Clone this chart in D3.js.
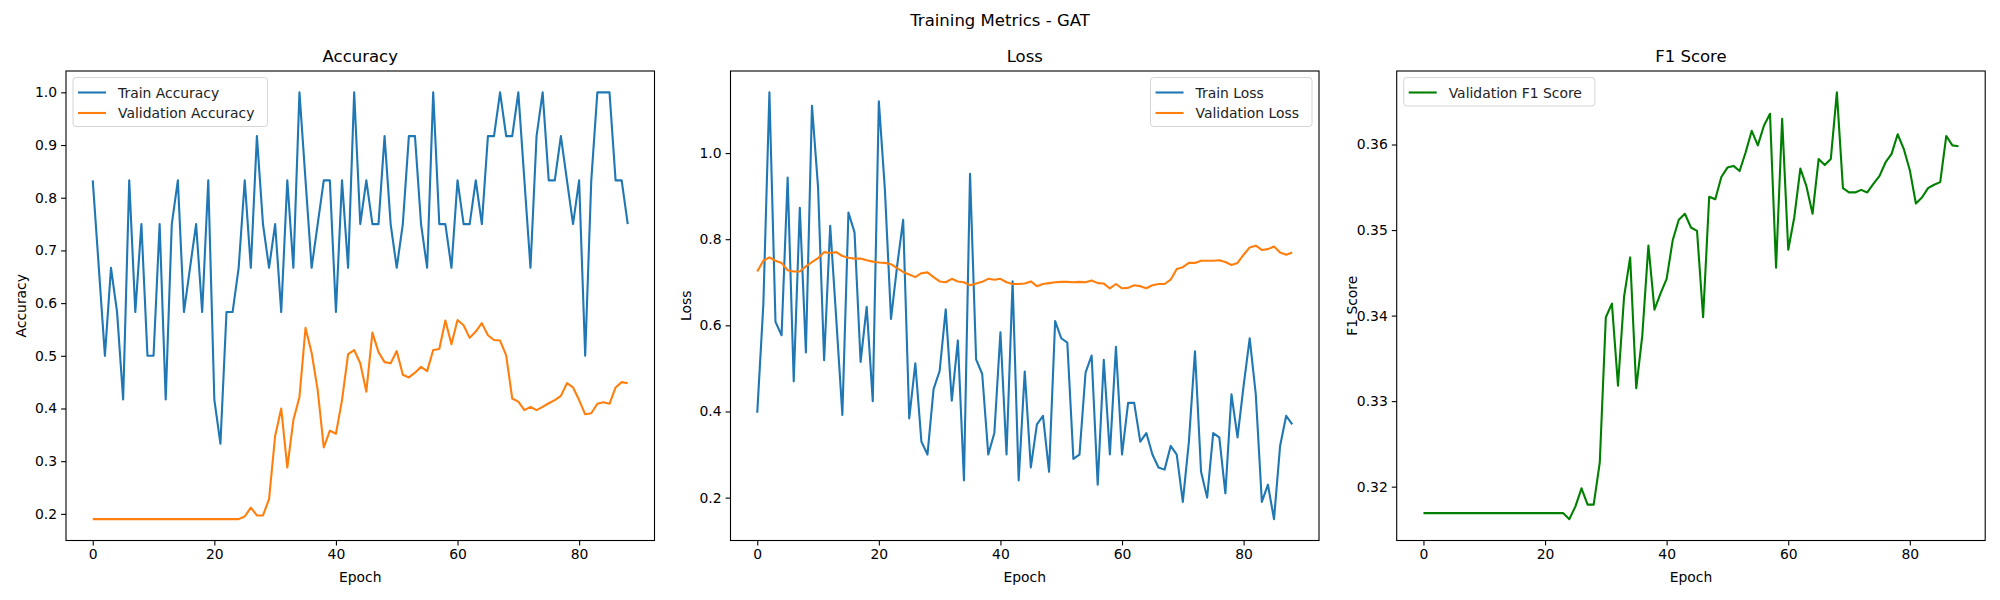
<!DOCTYPE html>
<html>
<head>
<meta charset="utf-8">
<script src="https://cdn.jsdelivr.net/npm/d3@7"></script>
<style>
  body { margin:0; background:#fff; }
  svg { font-family: "DejaVu Sans", sans-serif; }
</style>
</head>
<body>
<svg id="chart" width="2000" height="600"></svg>
<script>
var trainAcc = [0.833,0.667,0.5,0.667,0.583,0.417,0.833,0.583,0.75,0.5,0.5,0.75,0.417,0.75,0.833,0.583,0.667,0.75,0.583,0.833,
  0.417,0.333,0.583,0.583,0.667,0.833,0.667,0.917,0.75,0.667,0.75,0.583,0.833,0.667,1.0,0.833,0.667,0.75,0.833,0.833,
  0.583,0.833,0.667,1.0,0.75,0.833,0.75,0.75,0.917,0.75,0.667,0.75,0.917,0.917,0.75,0.667,1.0,0.75,0.75,0.667,
  0.833,0.75,0.75,0.833,0.75,0.917,0.917,1.0,0.917,0.917,1.0,0.833,0.667,0.917,1.0,0.833,0.833,0.917,0.833,0.75,
  0.833,0.5,0.833,1.0,1.0,1.0,0.833,0.833,0.75];
var valAcc = [0.19,0.19,0.19,0.19,0.19,0.19,0.19,0.19,0.19,0.19,0.19,0.19,0.19,0.19,0.19,0.19,0.19,0.19,0.19,0.19,
  0.19,0.19,0.19,0.19,0.19,0.195,0.212,0.197,0.197,0.228,0.348,0.40,0.288,0.378,0.422,0.553,0.506,0.435,0.326,0.358,
  0.352,0.416,0.503,0.511,0.486,0.432,0.544,0.507,0.488,0.486,0.509,0.464,0.459,0.468,0.479,0.471,0.511,0.513,0.567,0.522,
  0.568,0.558,0.534,0.546,0.562,0.539,0.530,0.529,0.501,0.419,0.413,0.397,0.403,0.397,0.403,0.410,0.416,0.424,0.448,0.440,
  0.416,0.389,0.391,0.409,0.412,0.409,0.440,0.450,0.448];
var trainLoss = [0.397,0.648,1.141,0.608,0.577,0.943,0.470,0.873,0.537,1.110,0.921,0.519,0.831,0.614,0.392,0.862,0.816,0.515,0.643,0.424,
  1.120,0.914,0.615,0.737,0.845,0.384,0.512,0.33,0.30,0.452,0.494,0.637,0.425,0.565,0.24,0.952,0.521,0.487,0.30,0.35,
  0.584,0.30,0.702,0.24,0.493,0.27,0.37,0.39,0.26,0.61,0.57,0.56,0.29,0.30,0.49,0.53,0.23,0.52,0.30,0.55,
  0.30,0.42,0.42,0.33,0.35,0.30,0.27,0.265,0.32,0.30,0.19,0.33,0.54,0.26,0.20,0.35,0.34,0.21,0.44,0.34,
  0.46,0.57,0.44,0.19,0.23,0.15,0.32,0.39,0.37];
var valLoss = [0.725,0.750,0.758,0.750,0.745,0.728,0.725,0.725,0.737,0.747,0.756,0.770,0.768,0.770,0.761,0.757,0.755,0.755,0.751,0.748,
  0.746,0.745,0.742,0.733,0.724,0.718,0.712,0.721,0.723,0.712,0.702,0.700,0.708,0.702,0.700,0.693,0.697,0.701,0.708,0.706,
  0.708,0.700,0.696,0.696,0.697,0.702,0.691,0.696,0.698,0.700,0.701,0.701,0.700,0.701,0.700,0.704,0.698,0.697,0.686,0.696,
  0.686,0.687,0.693,0.691,0.686,0.693,0.696,0.696,0.706,0.731,0.735,0.745,0.745,0.750,0.750,0.750,0.751,0.747,0.740,0.745,
  0.764,0.781,0.785,0.775,0.777,0.783,0.769,0.764,0.769];
var valF1 = [0.3169,0.3169,0.3169,0.3169,0.3169,0.3169,0.3169,0.3169,0.3169,0.3169,0.3169,0.3169,0.3169,0.3169,0.3169,0.3169,0.3169,0.3169,0.3169,0.3169,
  0.3169,0.3169,0.3169,0.3169,0.3162,0.3177,0.3198,0.3179,0.3179,0.3228,0.3398,0.3414,0.3318,0.3422,0.3468,0.3315,0.3377,0.3482,0.3407,0.3426,
  0.3443,0.3488,0.3512,0.3519,0.3503,0.3499,0.3398,0.3539,0.3536,0.3562,0.3573,0.3575,0.3569,0.3591,0.3616,0.3599,0.3622,0.3636,0.3456,0.3630,
  0.3477,0.3515,0.3572,0.3551,0.3519,0.3583,0.3576,0.3583,0.3661,0.3549,0.3544,0.3544,0.3547,0.3544,0.3554,0.3563,0.3579,0.3589,0.3612,0.3595,
  0.3570,0.3531,0.3538,0.3549,0.3553,0.3556,0.3610,0.3599,0.3598];
var xTicks = [0,20,40,60,80];

var panels = [
  {title:'Accuracy', ylabel:'Accuracy', left:66, yticks:[0.2,0.3,0.4,0.5,0.6,0.7,0.8,0.9,1.0], fmt:'.1f', legend:'left',
   series:[{name:'Train Accuracy', values:trainAcc, color:'#1f77b4'}, {name:'Validation Accuracy', values:valAcc, color:'#ff7f0e'}]},
  {title:'Loss', ylabel:'Loss', left:730.5, yticks:[0.2,0.4,0.6,0.8,1.0], fmt:'.1f', legend:'right',
   series:[{name:'Train Loss', values:trainLoss, color:'#1f77b4'}, {name:'Validation Loss', values:valLoss, color:'#ff7f0e'}]},
  {title:'F1 Score', ylabel:'F1 Score', left:1396.7, yticks:[0.32,0.33,0.34,0.35,0.36], fmt:'.2f', legend:'left',
   series:[{name:'Validation F1 Score', values:valF1, color:'#008000'}]}
];

var svg = d3.select('#chart'),
  W = 588.5, plotTop = 71, plotBottom = 540.5;

svg.append('text').attr('x',1000).attr('y',26).attr('text-anchor','middle')
  .style('font-size','16.5px').text('Training Metrics - GAT');

panels.forEach(function(p){
  var all = [].concat.apply([], p.series.map(function(s){ return s.values; })),
    mn = d3.min(all), mx = d3.max(all), pad = (mx-mn)*0.05;
  var x = d3.scaleLinear().domain([-4.4, 92.4]).range([p.left, p.left+W]);
  var y = d3.scaleLinear().domain([mn-pad, mx+pad]).range([plotBottom, plotTop]);
  var g = svg.append('g');

  var xa = g.append('g').attr('transform','translate(0,'+plotBottom+')')
    .call(d3.axisBottom(x).tickValues(xTicks).tickFormat(d3.format('d')).tickSize(4.9).tickPadding(4));
  var ya = g.append('g').attr('transform','translate('+p.left+',0)')
    .call(d3.axisLeft(y).tickValues(p.yticks).tickFormat(d3.format(p.fmt)).tickSize(4.9).tickPadding(4));
  [xa,ya].forEach(function(a){
    a.select('.domain').remove();
    a.selectAll('line').attr('stroke','#000').attr('stroke-width',1.1);
    a.selectAll('text').style('font-size','13.9px').attr('fill','#000').style('font-family','"DejaVu Sans", sans-serif');
  });

  var line = d3.line().x(function(d,i){ return x(i); }).y(function(d){ return y(d); });
  p.series.forEach(function(s){
    g.append('path').datum(s.values).attr('d',line).attr('fill','none')
      .attr('stroke',s.color).attr('stroke-width',2.1).attr('stroke-linejoin','round');
  });

  g.append('rect').attr('x',p.left).attr('y',plotTop).attr('width',W).attr('height',plotBottom-plotTop)
    .attr('fill','none').attr('stroke','#000').attr('stroke-width',1.1);

  g.append('text').attr('x',p.left+W/2).attr('y',plotTop-9).attr('text-anchor','middle')
    .style('font-size','16.5px').text(p.title);
  g.append('text').attr('x',p.left+W/2).attr('y',582).attr('text-anchor','middle')
    .style('font-size','13.9px').text('Epoch');
  g.append('text').attr('transform','translate('+(p.left-40)+','+((plotTop+plotBottom)/2)+') rotate(-90)')
    .attr('text-anchor','middle').style('font-size','13.9px').text(p.ylabel);

  // legend
  var tmp = g.append('text').style('font-size','13.9px');
  var tw = d3.max(p.series.map(function(s){ tmp.text(s.name); return tmp.node().getComputedTextLength(); }));
  tmp.remove();
  var lw = tw + 58, lh = 8 + 20.5*p.series.length,
    lx = p.legend === 'left' ? p.left+7 : p.left+W-7-lw, ly = plotTop+6.5;
  var lg = g.append('g').attr('transform','translate('+lx+','+ly+')');
  lg.append('rect').attr('width',lw).attr('height',lh).attr('rx',3)
    .attr('fill','#fff').attr('fill-opacity',0.8).attr('stroke','#d5d5d5').attr('stroke-width',1);
  p.series.forEach(function(s,i){
    var cy = 15 + i*20.5;
    lg.append('line').attr('x1',5).attr('x2',33).attr('y1',cy).attr('y2',cy)
      .attr('stroke',s.color).attr('stroke-width',2.1);
    lg.append('text').attr('x',45).attr('y',cy+5).style('font-size','13.9px').attr('fill','#222').text(s.name);
  });
});
</script>
</body>
</html>
